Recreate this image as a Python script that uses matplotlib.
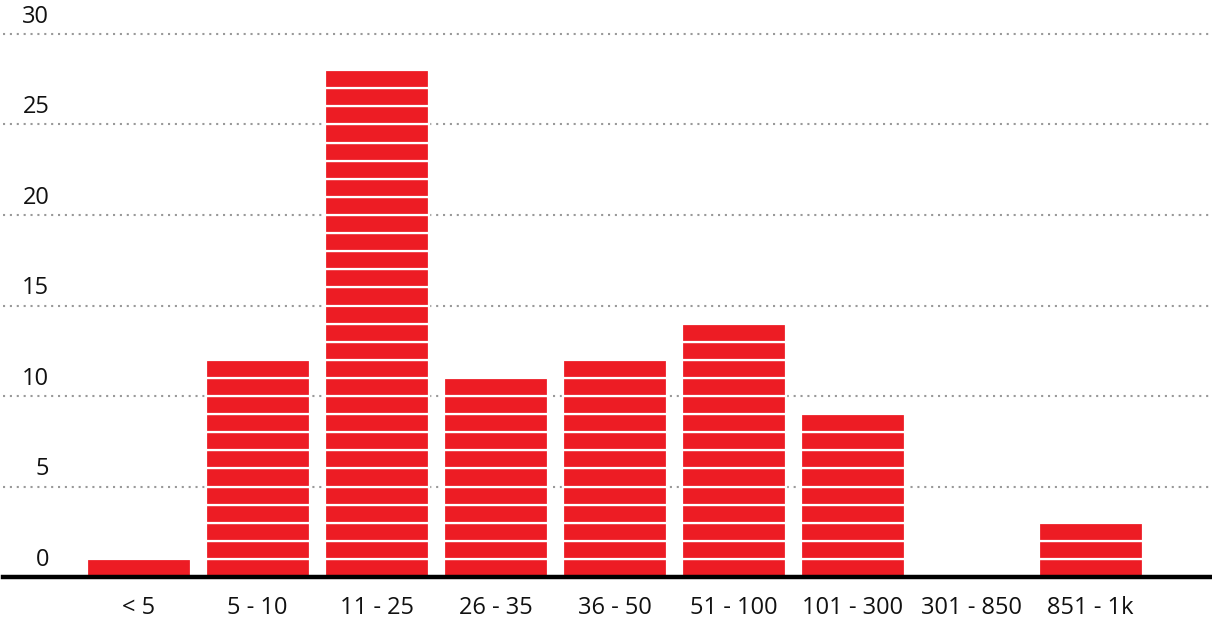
import numpy as np
import matplotlib.pyplot as plt

plt.rcParams['font.family'] = ['Open Sans', 'DejaVu Sans']

categories = ['< 5', '5 - 10', '11 - 25', '26 - 35', '36 - 50', '51 - 100', '101 - 300', '301 - 850', '851 - 1k']
counts = [1, 12, 28, 11, 12, 14, 9, 0, 3]
y_ticks = [0, 5, 10, 15, 20, 25, 30]

red = '#ED1C24'

fig = plt.figure(figsize=(12.12, 6.19), dpi=100)
# axes in pixel terms: x from 3 to 1212, baseline at y=577
ax = fig.add_axes([3 / 1212, 42 / 619, 1209 / 1212, (30.5 * 18.1) / 619])
ax.set_xlim(-1.139, 9.021)
ax.set_ylim(0, 30.5)
ax.set_axis_off()

# dotted gridlines behind the bars
for t in y_ticks[1:]:
    ax.axhline(t, color='#999999', lw=1.5, ls=(0, (1, 2.3)), zorder=1)
for t in y_ticks:
    ax.text(-0.75, t + 0.3, str(t), ha='right', va='bottom', fontsize=17, color='#111111')

# stacked unit blocks
x = np.arange(len(categories))
for xi, n in zip(x, counts):
    for k in range(n):
        ax.bar(xi, 1, bottom=k, width=0.874, color=red, edgecolor='white',
               linewidth=1.6, zorder=2)

# baseline
ax.axhline(0, color='black', lw=3.2, zorder=3, clip_on=False)

for xi, lab in zip(x, categories):
    ax.text(xi, -1.72, lab, ha='center', va='center', fontsize=17, color='#111111')

fig.savefig('out.png', dpi=100)
